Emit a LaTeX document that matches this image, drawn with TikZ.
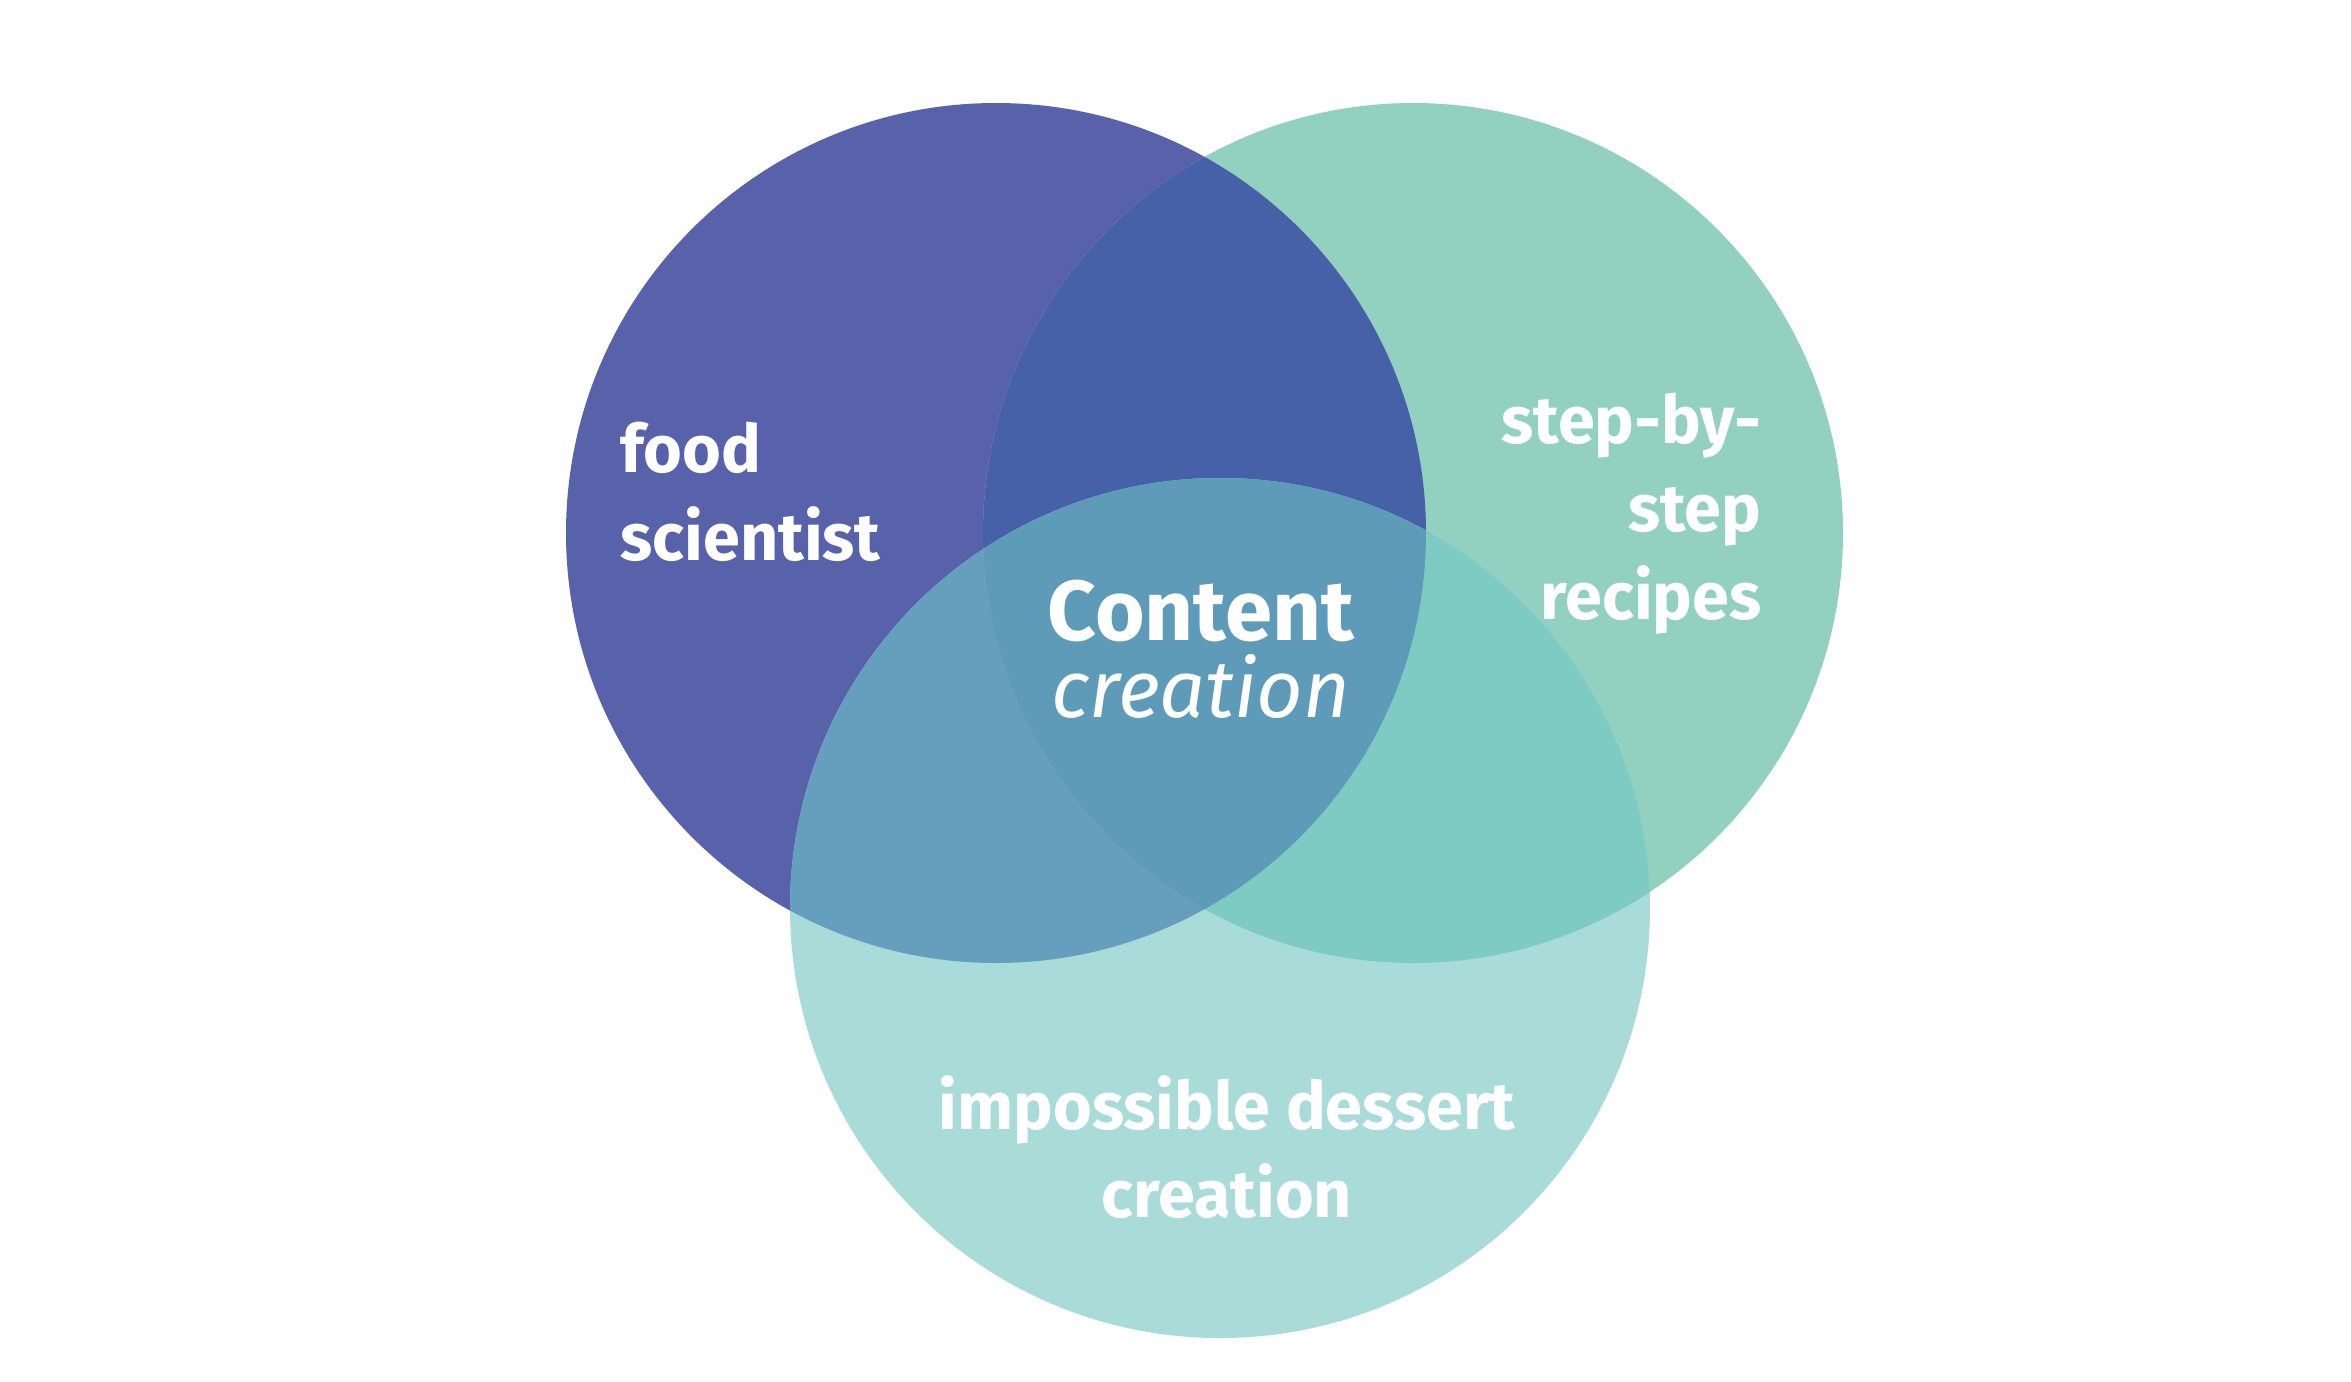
\documentclass[tikz,border=0pt]{standalone}
\usepackage{fontspec}
\setmainfont{Fira Sans}
\usepackage{xcolor}
\usepackage{tikz}
\usetikzlibrary{positioning,calc}
\definecolor{sciblue}{HTML}{5762AB}
\definecolor{stepgreen}{HTML}{92D1C0}
\definecolor{dessertaqua}{HTML}{A9DCD9}
\definecolor{sciandstep}{HTML}{4661A8}
\definecolor{sciandde}{HTML}{669EBD}
\definecolor{stepandde}{HTML}{7ECBC3}
\definecolor{allthree}{HTML}{5D9BB8}
\tikzstyle{lab}= [text=white, inner sep=0pt, font=\bfseries\fontsize{18.9}{25}\selectfont]
\tikzstyle{mid}= [text=white, inner sep=0pt, align=center, font=\fontsize{23}{21.9}\selectfont]

\begin{document}
\begin{tikzpicture}[x=0.01cm, y=-0.01cm]
				\useasboundingbox (0, 0) rectangle (2351, 1381);
				\fill[white] (0, 0) rectangle (2351, 1381);
				\coordinate (ls) at (996, 533);
				\coordinate (rs) at (1413, 533);
				\coordinate (bs) at (1220, 908);
				\fill[sciblue] (ls) circle (430);
				\fill[stepgreen] (rs) circle (430);
				\fill[dessertaqua] (bs) circle (430);
				\begin{scope}
					\clip (ls) circle (430);
					\fill[sciandstep] (rs) circle (430);
					\fill[sciandde] (bs) circle (430);
				\end{scope}
				\begin{scope}
					\clip (rs) circle (430);
					\fill[stepandde] (bs) circle (430);
					\clip (bs) circle (430);
					\fill[allthree] (ls) circle (430);
				\end{scope}
				\node[lab, anchor=base west, align=left] (food) at (620, 560) {food\\scientist};
				\node[lab, anchor=base east, align=right] (step) at (1762, 619) {step-by-\\step\\recipes};
				\node[lab, anchor=base, align=center] (dessert) at (1227, 1217) {impossible dessert\\creation};
				\node[mid, anchor=base] (content) at (1201, 717) {{\bfseries\fontsize{24.2}{21.9}\selectfont Content}\\{\itshape creation}};
			\end{tikzpicture}
\end{document}
